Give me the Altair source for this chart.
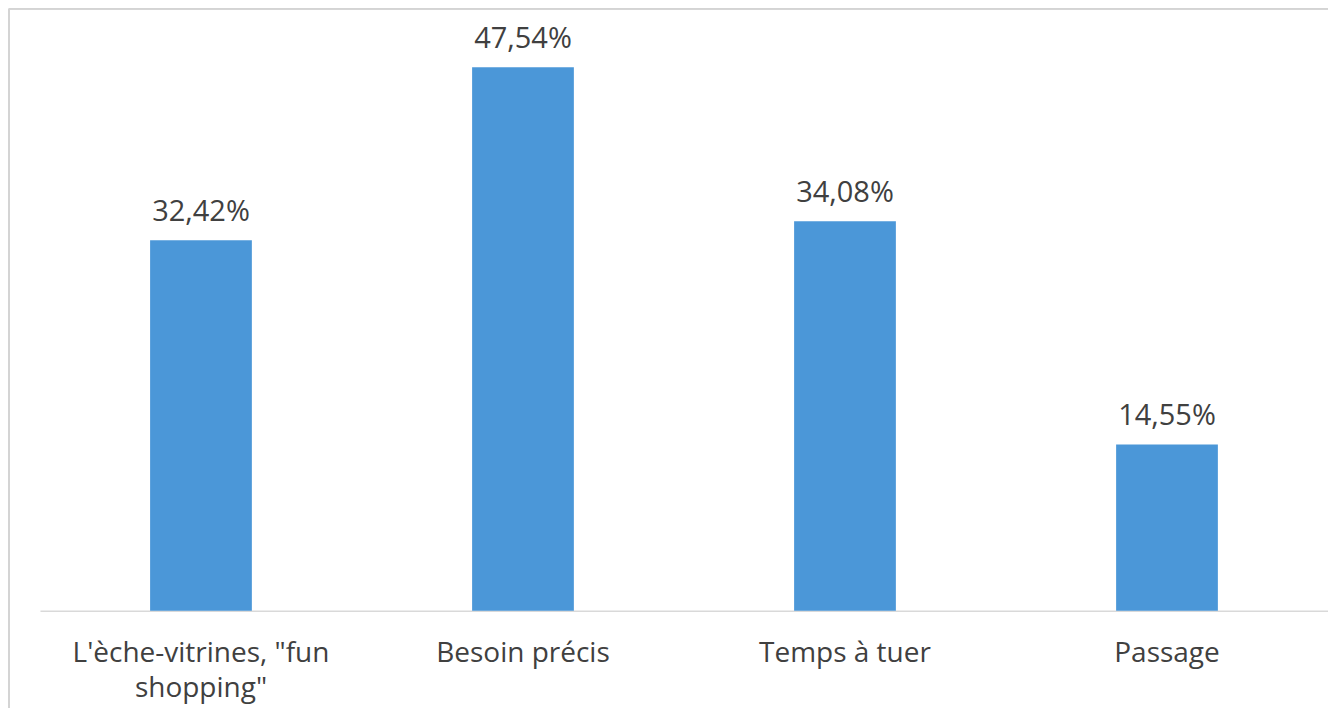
import altair as alt
import pandas as pd

categories = ["L'èche-vitrines, \"fun shopping\"", "Besoin précis", "Temps à tuer", "Passage"]
values = [32.42, 47.54, 34.08, 14.55]

df = pd.DataFrame({"cat": categories, "v": values})

W = 1289
H = 572
PL = 32
PT = 31

base = alt.Chart(df)

x_enc = alt.X(
    "cat:N",
    sort=categories,
    scale=alt.Scale(paddingInner=0.684, paddingOuter=0.342),
    axis=alt.Axis(
        title=None,
        ticks=False,
        domainColor="#d9d9d9",
        domainWidth=1.5,
        labelAngle=0,
        labelFont="Open Sans",
        labelFontSize=28,
        labelColor="#404040",
        labelPadding=29,
        labelLineHeight=35,
        labelBaseline="top",
        labelLimit=0,
        labelExpr="indexof(datum.label, ' shopping') > 0 ? [slice(datum.label, 0, indexof(datum.label, ' shopping')), slice(datum.label, indexof(datum.label, ' shopping') + 1)] : datum.label",
    ),
)
y_enc = alt.Y("v:Q", scale=alt.Scale(domain=[0, 50]), axis=None)

bars = base.mark_bar(color="#4b97d8").encode(x=x_enc, y=y_enc)

labels = base.transform_calculate(
    lab="replace(format(datum.v, '.2f'), '.', ',') + '%'"
).mark_text(
    font="Open Sans", fontSize=29, color="#404040", baseline="alphabetic", dy=-19
).encode(x=alt.X("cat:N", sort=categories), y="v:Q", text="lab:N")

frame_left = base.mark_rule(color="#d4d4d4", strokeWidth=1.5).encode(
    x=alt.value(-31), y=alt.value(-30.5), y2=alt.value(H + 120)
)
frame_top = base.mark_rule(color="#d4d4d4", strokeWidth=1.5).encode(
    x=alt.value(-31), x2=alt.value(W + 20), y=alt.value(-30.5)
)

chart = (
    alt.layer(frame_left, frame_top, bars, labels)
    .properties(
        width=W,
        height=H,
        background="white",
        autosize=alt.AutoSizeParams(type="none"),
        padding={"left": PL, "top": PT, "right": 0, "bottom": 97},
    )
    .configure_view(strokeWidth=0, stroke=None)
)

chart.save("out.html", embed_options={"renderer": "svg", "actions": False})
